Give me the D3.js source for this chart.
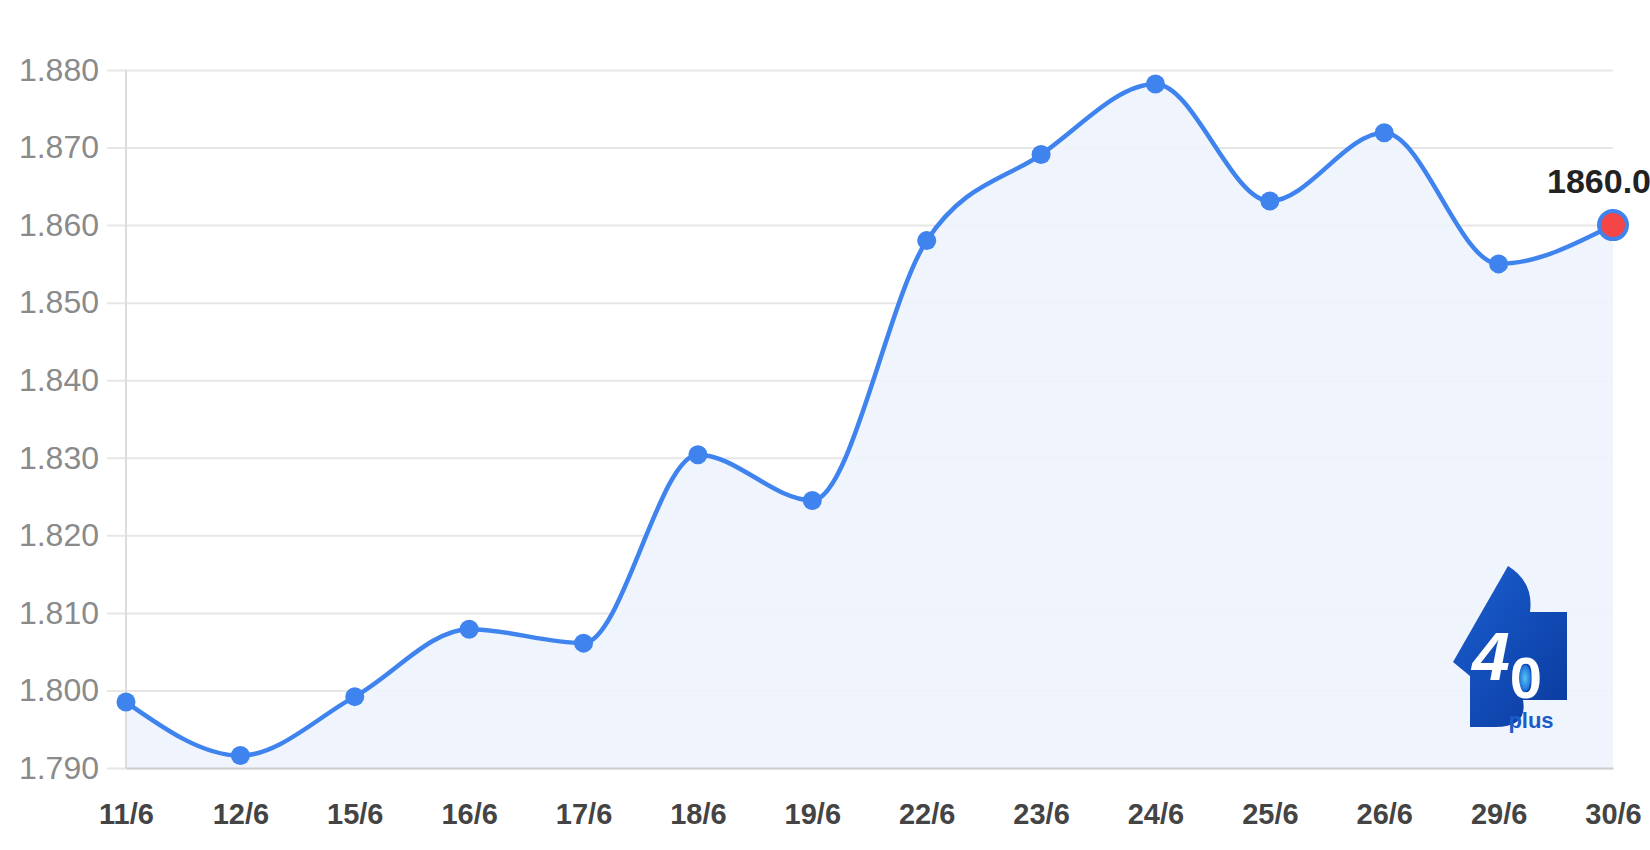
<!DOCTYPE html>
<html>
<head>
<meta charset="utf-8">
<script src="https://cdn.jsdelivr.net/npm/d3@7"></script>
<style>
  html, body { margin: 0; padding: 0; background: #fff; }
  svg { display: block; font-family: "Liberation Sans", Arial, sans-serif; }
</style>
</head>
<body>
<div id="chart"></div>
<script>
var dates = ["11/6", "12/6", "15/6", "16/6", "17/6", "18/6", "19/6", "22/6", "23/6", "24/6", "25/6", "26/6", "29/6", "30/6"];
var prices = [1798.5, 1791.6, 1799.2, 1807.9, 1806.1, 1830.4, 1824.5, 1858.0, 1869.1, 1878.2, 1863.1, 1871.9, 1855.0, 1860.0];
var yTicks = [1790, 1800, 1810, 1820, 1830, 1840, 1850, 1860, 1870, 1880];

var W = 1650, H = 850;
var plotLeft = 126, plotRight = 1613, plotTop = 70, plotBottom = 768;

var vn = d3.formatLocale({decimal: ",", thousands: ".", grouping: [3], currency: ["", ""]});
var fmtTick = vn.format(",d");

var svg = d3.select("#chart").append("svg")
    .attr("width", W)
    .attr("height", H);

var x = d3.scalePoint().domain(dates).range([plotLeft, plotRight]);
var y = d3.scaleLinear().domain([1790, 1880]).range([plotBottom, plotTop]);

var data = dates.map(function(d, i) { return {date: d, value: prices[i]}; });

// grid + y labels
var yAxis = d3.axisLeft(y)
    .tickValues(yTicks)
    .tickSize(plotRight - 107)
    .tickPadding(8)
    .tickFormat(fmtTick);

var gy = svg.append("g")
    .attr("transform", "translate(" + plotRight + ",0)")
    .call(yAxis);
gy.select(".domain").remove();
gy.selectAll("line").attr("stroke", "#e6e6e6").attr("stroke-width", 2);
gy.selectAll("text")
    .attr("fill", "#8a8a8a")
    .style("font-size", "32px");

// area + line
var area = d3.area()
    .curve(d3.curveMonotoneX)
    .x(function(d) { return x(d.date); })
    .y0(plotBottom)
    .y1(function(d) { return y(d.value); });

var line = d3.line()
    .curve(d3.curveMonotoneX)
    .x(function(d) { return x(d.date); })
    .y(function(d) { return y(d.value); });

svg.append("path")
    .datum(data)
    .attr("fill", "#eef3fc")
    .attr("fill-opacity", 0.9)
    .attr("d", area);

// vertical axis line
svg.append("line")
    .attr("x1", plotLeft).attr("x2", plotLeft)
    .attr("y1", plotTop).attr("y2", plotBottom)
    .attr("stroke", "#dddddd")
    .attr("stroke-width", 2);

// x axis
var xAxis = d3.axisBottom(x).tickSize(0).tickPadding(35);
var gx = svg.append("g")
    .attr("transform", "translate(0," + plotBottom + ")")
    .call(xAxis);
gx.select(".domain")
    .attr("stroke", "#cfcfcf")
    .attr("stroke-width", 2);
gx.selectAll("text")
    .attr("fill", "#444")
    .style("font-size", "29px")
    .style("font-weight", "bold");

// logo (40 plus)
var logo = svg.append("g");
var defs = svg.append("defs");
var grad = defs.append("linearGradient").attr("id", "lg").attr("x1", "0").attr("y1", "0").attr("x2", "1").attr("y2", "1");
grad.append("stop").attr("offset", "0").attr("stop-color", "#1b5fd1");
grad.append("stop").attr("offset", "1").attr("stop-color", "#0a3a9e");
var grad2 = defs.append("radialGradient").attr("id", "lg2");
grad2.append("stop").attr("offset", "0").attr("stop-color", "#57c3f5");
grad2.append("stop").attr("offset", "1").attr("stop-color", "#1d6fd6");
logo.append("path")
    .attr("d", "M1453,662 L1508,566 Q1534,582 1530,612 L1567,612 L1567,700 L1523,700 Q1528,727 1495,727 L1470,727 L1470,676 Z")
    .attr("fill", "url(#lg)");
var mark = logo.append("text")
    .attr("x", 1472).attr("y", 680)
    .attr("fill", "#fff")
    .style("font-weight", "bold");
mark.append("tspan")
    .style("font-size", "68px")
    .style("font-style", "italic")
    .text("4");
mark.append("tspan")
    .attr("dx", 0).attr("dy", 18)
    .style("font-size", "58px")
    .text("0");
logo.append("ellipse")
    .attr("cx", 1525).attr("cy", 678).attr("rx", 6).attr("ry", 13)
    .attr("fill", "url(#lg2)");
logo.append("text")
    .attr("x", 1531).attr("y", 728)
    .attr("text-anchor", "middle")
    .attr("fill", "#1c5cc8")
    .style("font-size", "22px")
    .style("font-weight", "bold")
    .text("plus");

// line on top
svg.append("path")
    .datum(data)
    .attr("fill", "none")
    .attr("stroke", "#3f83ee")
    .attr("stroke-width", 4.5)
    .attr("d", line);

var last = data[data.length - 1];

svg.selectAll("circle.pt")
    .data(data.slice(0, -1))
  .enter().append("circle")
    .attr("class", "pt")
    .attr("cx", function(d) { return x(d.date); })
    .attr("cy", function(d) { return y(d.value); })
    .attr("r", 9.5)
    .attr("fill", "#3f83ee");

svg.append("circle")
    .attr("cx", x(last.date))
    .attr("cy", y(last.value))
    .attr("r", 14)
    .attr("fill", "#f44646")
    .attr("stroke", "#3f83ee")
    .attr("stroke-width", 4);

svg.append("text")
    .attr("x", x(last.date) - 66)
    .attr("y", 193)
    .attr("fill", "#222")
    .style("font-size", "34px")
    .style("font-weight", "bold")
    .text(last.value.toFixed(1));
</script>
</body>
</html>
